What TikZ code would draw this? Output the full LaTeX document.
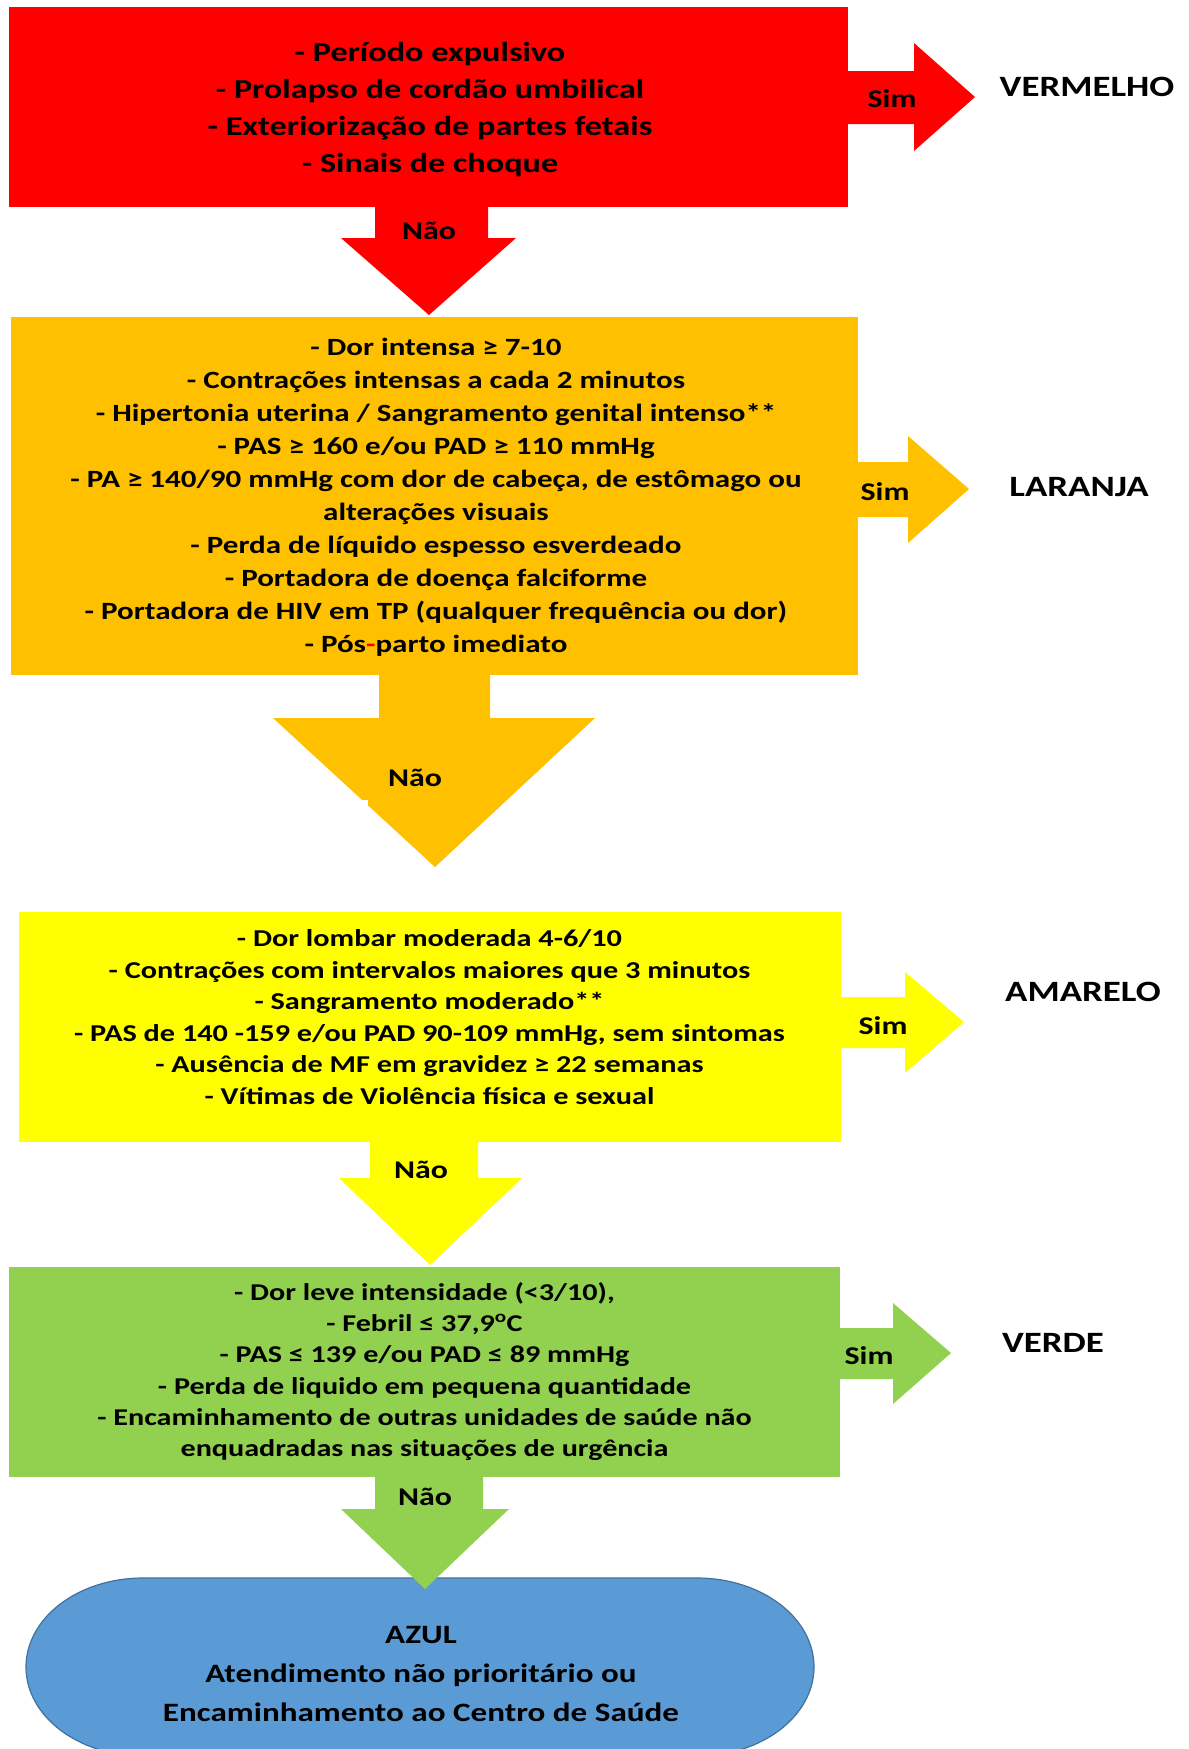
\documentclass[tikz,border=0pt]{standalone}
\usepackage{fontspec}
\setmainfont{Carlito}[FakeStretch=1.25]
\definecolor{cRed}{HTML}{FF0000}
\definecolor{cOrange}{HTML}{FFC000}
\definecolor{cYellow}{HTML}{FFFF00}
\definecolor{cGreen}{HTML}{92D050}
\definecolor{cBlue}{HTML}{5B9BD5}
\definecolor{cBlueEdge}{HTML}{41719C}
\begin{document}
\begin{tikzpicture}[x=1pt,y=-1pt,
  box/.style={draw=none, inner sep=0pt, anchor=north west},
  txt/.style args={#1/#2}{font=\bfseries\fontsize{#1}{#2}\selectfont, align=center, inner sep=0pt, text=black},
  lbl/.style={font=\bfseries\fontsize{25.5}{30}\selectfont, inner sep=0pt},
  level/.style={font=\bfseries\fontsize{29.5}{34}\selectfont, inner sep=0pt}]
\useasboundingbox (0,0) rectangle (1189,1749);
\fill[white] (0,0) rectangle (1189,1749);

% ---------------- red level ----------------
\node[box, fill=cRed, minimum width=839pt, minimum height=200pt] (red) at (9,7) {};
\fill[cRed] (846,71) -- (914,71) -- (914,43) -- (975,97) -- (914,151) -- (914,124) -- (846,124) -- cycle;
\fill[cRed] (375,205) -- (488,205) -- (488,238) -- (516,238) -- (429,315) -- (341,238) -- (375,238) -- cycle;
\node[txt=27.4/37] (redtext) at (430,110) {- Período expulsivo\\- Prolapso de cordão umbilical\\- Exteriorização de partes fetais\\- Sinais de choque};
\node[lbl] (redsim) at (892,99) {Sim};
\node[lbl] (rednao) at (429,231) {Não};
\node[level] (vermelho) at (1087,87) {VERMELHO};

% ---------------- orange level ----------------
\node[box, fill=cOrange, minimum width=847pt, minimum height=358pt] (orange) at (11,317) {};
\fill[cOrange] (855,462) -- (908,462) -- (908,436) -- (969,489) -- (908,543) -- (908,517) -- (855,517) -- cycle;
\fill[cOrange] (379,673) -- (490,673) -- (490,718) -- (595,718) -- (435,867) -- (273,718) -- (379,718) -- cycle;
\fill[white] (360,800) rectangle (368,808);
\node[txt=24.8/33] (orangetext) at (436,497.5) {- Dor intensa ≥ 7-10\\- Contrações intensas a cada 2 minutos\\- Hipertonia uterina / Sangramento genital intenso**\\- PAS ≥ 160 e/ou PAD ≥ 110 mmHg\\- PA ≥ 140/90 mmHg com dor de cabeça, de estômago ou\\alterações visuais\\- Perda de líquido espesso esverdeado\\- Portadora de doença falciforme\\- Portadora de HIV em TP (qualquer frequência ou dor)\\- Pós{\color{red}-}parto imediato};
\node[lbl] (orangesim) at (885,492) {Sim};
\node[lbl] (orangenao) at (415,778) {Não};
\node[level] (laranja) at (1079,487) {LARANJA};

% ---------------- yellow level ----------------
\node[box, fill=cYellow, minimum width=822pt, minimum height=230pt] (yellow) at (19,912) {};
\fill[cYellow] (839,997) -- (905,997) -- (905,972) -- (964,1022) -- (905,1073) -- (905,1048) -- (839,1048) -- cycle;
\fill[cYellow] (370,1140) -- (478,1140) -- (478,1178) -- (522,1178) -- (430,1265) -- (339,1178) -- (370,1178) -- cycle;
\node[txt=24.2/31.6] (yellowtext) at (429.5,1017) {- Dor lombar moderada 4-6/10\\- Contrações com intervalos maiores que 3 minutos\\- Sangramento moderado**\\- PAS de 140 -159 e/ou PAD 90-109 mmHg, sem sintomas\\- Ausência de MF em gravidez ≥ 22 semanas\\- Vítimas de Violência física e sexual};
\node[lbl] (yellowsim) at (883,1026) {Sim};
\node[lbl] (yellownao) at (421,1170) {Não};
\node[level] (amarelo) at (1083,992) {AMARELO};

% ---------------- green level ----------------
\node[box, fill=cGreen, minimum width=831pt, minimum height=210pt] (green) at (9,1267) {};
\fill[cGreen] (838,1328) -- (893,1328) -- (893,1303) -- (951,1353) -- (893,1404) -- (893,1379) -- (838,1379) -- cycle;

% ---------------- blue terminal ----------------
\filldraw[fill=cBlue, draw=cBlueEdge, line width=1.2pt]
  (143,1578) -- (697,1578)
  .. controls (762,1578) and (814,1618) .. (814,1667)
  .. controls (814,1716) and (762,1756) .. (697,1756)
  -- (143,1756)
  .. controls (78,1756) and (26,1716) .. (26,1667)
  .. controls (26,1618) and (78,1578) .. (143,1578) -- cycle;
\node[txt=26.5/39] (azul) at (421,1674) {AZUL\\Atendimento não prioritário ou\\Encaminhamento ao Centro de Saúde};

\fill[cGreen] (375,1475) -- (483,1475) -- (483,1509) -- (509,1509) -- (425,1589) -- (341,1509) -- (375,1509) -- cycle;
\node[txt=24.1/31.2] (greentext) at (424.5,1371.5) {- Dor leve intensidade (<3/10),\\- Febril ≤ 37,9\textsuperscript{o}C\\- PAS ≤ 139 e/ou PAD ≤ 89 mmHg\\- Perda de liquido em pequena quantidade\\- Encaminhamento de outras unidades de saúde não\\enquadradas nas situações de urgência};
\node[lbl] (greensim) at (869,1356) {Sim};
\node[lbl] (greennao) at (425,1497) {Não};
\node[level] (verde) at (1053,1343) {VERDE};
\end{tikzpicture}
\end{document}
